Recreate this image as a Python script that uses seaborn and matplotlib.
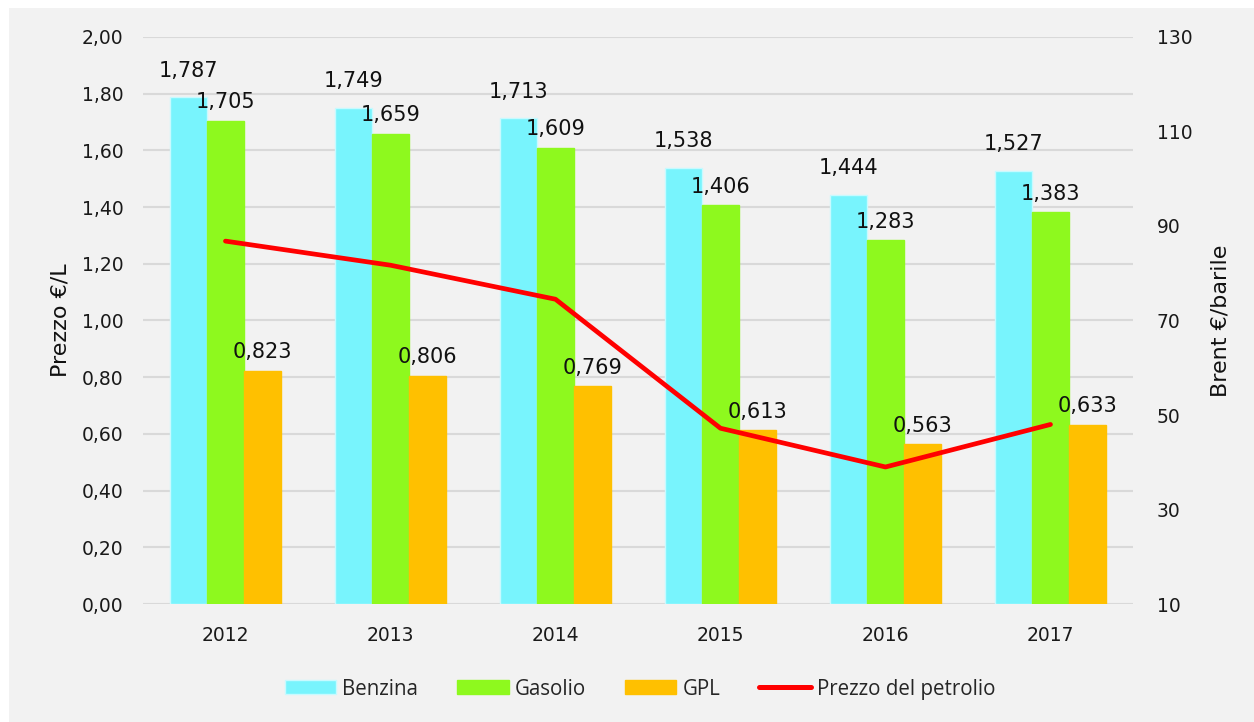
import numpy as np
import pandas as pd
import matplotlib
matplotlib.use("Agg")
import matplotlib.pyplot as plt
import seaborn as sns
from matplotlib.patches import Rectangle, Patch
from matplotlib.lines import Line2D

years = ["2012", "2013", "2014", "2015", "2016", "2017"]
benzina = [1.787, 1.749, 1.713, 1.538, 1.444, 1.527]
gasolio = [1.705, 1.659, 1.609, 1.406, 1.283, 1.383]
gpl = [0.823, 0.806, 0.769, 0.613, 0.563, 0.633]
brent = [86.8, 81.7, 74.5, 47.2, 39.0, 48.0]
series_names = ["Benzina", "Gasolio", "GPL"]
line_name = "Prezzo del petrolio"

colors = {"Benzina": "#78F4FD", "Gasolio": "#8EF91E", "GPL": "#FFC000"}
edge = {"Benzina": "#C8FAFF", "Gasolio": "#8EF91E", "GPL": "#FFC000"}

df = pd.DataFrame({
    "Anno": years * 3,
    "Serie": [s for s in series_names for _ in years],
    "Prezzo": benzina + gasolio + gpl,
})

sns.set_theme(style="white")
plt.rcParams["font.family"] = ["DejaVu Sans"]

fig = plt.figure(figsize=(12.54, 7.22), dpi=100)
fig.patch.set_facecolor("white")
fig.patches.append(Rectangle((9 / 1254, 0), 1, 1 - 8 / 722, transform=fig.transFigure,
                             facecolor="#F2F2F2", edgecolor="none", zorder=-10))

ax = fig.add_axes([0.114, 0.1634, 0.7895, 0.7854])
ax.set_facecolor("none")
sns.barplot(data=df, x="Anno", y="Prezzo", hue="Serie", palette=colors, width=0.67,
            ax=ax, legend=False, saturation=1, zorder=3)

pads = {"Benzina": 12, "Gasolio": 6, "GPL": 6}
for cont, name in zip(ax.containers, series_names):
    for p in cont.patches:
        p.set_edgecolor(edge[name])
        p.set_linewidth(1.0)
    labels = [f"{v:.3f}".replace(".", ",") for v in cont.datavalues]
    ax.bar_label(cont, labels=labels, padding=pads[name], fontsize=15, color="#111111")

ax.set_ylim(0, 2.0)
ax.set_yticks(np.arange(0, 2.01, 0.2))
ax.set_yticklabels([f"{v:.2f}".replace(".", ",") for v in np.arange(0, 2.01, 0.2)])
ax.set_xlim(-0.5, len(years) - 0.5)
ax.grid(axis="y", color="#D9D9D9", linewidth=1.5, zorder=0)
ax.set_axisbelow(True)
for s in ax.spines.values():
    s.set_visible(False)
ax.tick_params(axis="both", length=0, labelsize=13.5, colors="#1a1a1a")
ax.tick_params(axis="x", pad=16, labelsize=13.5)
ax.tick_params(axis="y", pad=14)
ax.set_xlabel("")
ax.set_ylabel("Prezzo €/L", fontsize=16, labelpad=8, color="#111111")

ax2 = ax.twinx()
sns.lineplot(x=np.arange(len(years)), y=brent, ax=ax2, color="#FF0000", linewidth=3.4,
             solid_capstyle="round", zorder=5)
ax2.set_ylim(10, 130)
ax2.set_yticks(np.arange(10, 131, 20))
ax2.tick_params(axis="y", length=0, labelsize=13.5, pad=17, colors="#1a1a1a")
for s in ax2.spines.values():
    s.set_visible(False)
ax2.set_ylabel("Brent €/barile", fontsize=16, labelpad=13, color="#111111")
ax2.grid(False)

handles = [Patch(facecolor=colors[n], edgecolor=edge[n]) for n in series_names]
handles.append(Line2D([0], [0], color="#FF0000", linewidth=3.6, solid_capstyle="round"))
fig.legend(handles, series_names + [line_name], loc="center", bbox_to_anchor=(0.5104, 0.0457),
           ncol=4, frameon=False, handlelength=2.5, handleheight=0.68,
           handletextpad=0.29, columnspacing=1.9,
           prop={"family": ["Open Sans", "DejaVu Sans"], "size": 14.8})

fig.savefig("out.png", dpi=100)
